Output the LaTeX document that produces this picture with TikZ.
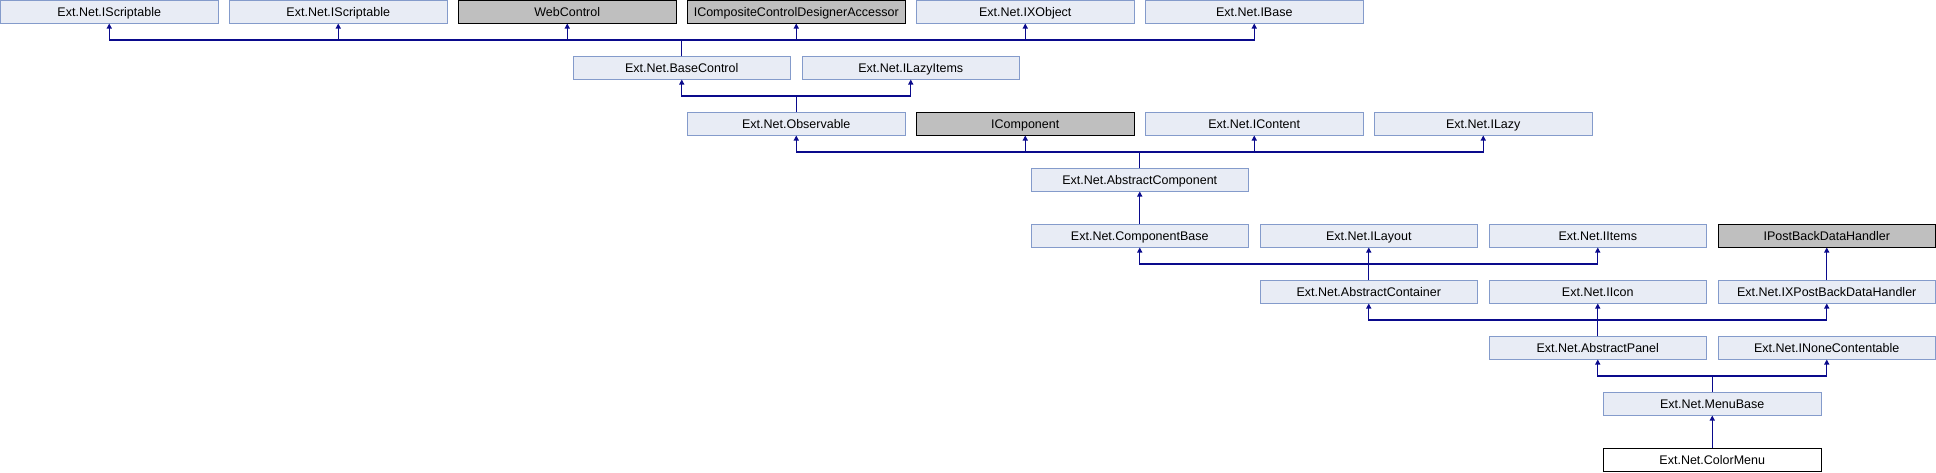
\documentclass[tikz,border=0pt]{standalone}
\usepackage{fontspec}
\setmainfont{Liberation Sans}
\usetikzlibrary{arrows.meta}
\definecolor{boxfill}{RGB}{232,236,245}
\definecolor{boxline}{RGB}{132,155,203}
\definecolor{extfill}{RGB}{191,191,191}
\definecolor{conncol}{RGB}{10,10,140}
\begin{document}
\begin{tikzpicture}[x=1pt,y=1pt,
  cls/.style={draw=boxline,fill=boxfill,line width=1pt,minimum width=217.5pt,minimum height=22.5pt,inner sep=0pt,text height=9pt,text depth=0pt,font=\fontsize{12.5}{14}\selectfont},
  ext/.style={cls,draw=black,fill=extfill},
  main/.style={cls,draw=black,fill=white},
  conn/.style={draw=conncol,line width=1.2pt,-{Triangle[width=5pt,length=5pt]}}]
\useasboundingbox (0,0) rectangle (1936,-472);
% row 0
\node[cls] (s1) at (109.25,-11.75) {Ext.Net.IScriptable};
\node[cls] (s2) at (338.25,-11.75) {Ext.Net.IScriptable};
\node[ext] (wc) at (567.25,-11.75) {WebControl};
\node[ext] (icc) at (796.25,-11.75) {ICompositeControlDesignerAccessor};
\node[cls] (ixo) at (1025.25,-11.75) {Ext.Net.IXObject};
\node[cls] (ib) at (1254.25,-11.75) {Ext.Net.IBase};
% row 1
\node[cls] (bc) at (681.75,-67.75) {Ext.Net.BaseControl};
\node[cls] (ili) at (910.75,-67.75) {Ext.Net.ILazyItems};
% row 2
\node[cls] (obs) at (796.25,-123.75) {Ext.Net.Observable};
\node[ext] (icomp) at (1025.25,-123.75) {IComponent};
\node[cls] (icont) at (1254.25,-123.75) {Ext.Net.IContent};
\node[cls] (ilazy) at (1483.25,-123.75) {Ext.Net.ILazy};
% row 3
\node[cls] (ac) at (1139.75,-179.75) {Ext.Net.AbstractComponent};
% row 4
\node[cls] (cb) at (1139.75,-235.75) {Ext.Net.ComponentBase};
\node[cls] (ilay) at (1368.75,-235.75) {Ext.Net.ILayout};
\node[cls] (iit) at (1597.75,-235.75) {Ext.Net.IItems};
\node[ext] (ipb) at (1826.75,-235.75) {IPostBackDataHandler};
% row 5
\node[cls] (acont) at (1368.75,-291.75) {Ext.Net.AbstractContainer};
\node[cls] (iicon) at (1597.75,-291.75) {Ext.Net.IIcon};
\node[cls] (ixpb) at (1826.75,-291.75) {Ext.Net.IXPostBackDataHandler};
% row 6
\node[cls] (ap) at (1597.75,-347.75) {Ext.Net.AbstractPanel};
\node[cls] (inc) at (1826.75,-347.75) {Ext.Net.INoneContentable};
% row 7
\node[cls] (mb) at (1712.25,-403.75) {Ext.Net.MenuBase};
% row 8
\node[main] (cm) at (1712.25,-459.75) {Ext.Net.ColorMenu};
% connectors
\foreach \p in {s1,s2,wc,icc,ixo,ib}
  \draw[conn] (bc.north) -- ++(0,16) -| (\p.south);
\foreach \p in {bc,ili}
  \draw[conn] (obs.north) -- ++(0,16) -| (\p.south);
\foreach \p in {obs,icomp,icont,ilazy}
  \draw[conn] (ac.north) -- ++(0,16) -| (\p.south);
\draw[conn] (cb.north) -- (ac.south);
\foreach \p in {cb,ilay,iit}
  \draw[conn] (acont.north) -- ++(0,16) -| (\p.south);
\draw[conn] (ixpb.north) -- (ipb.south);
\foreach \p in {acont,iicon,ixpb}
  \draw[conn] (ap.north) -- ++(0,16) -| (\p.south);
\foreach \p in {ap,inc}
  \draw[conn] (mb.north) -- ++(0,16) -| (\p.south);
\draw[conn] (cm.north) -- (mb.south);
\end{tikzpicture}
\end{document}
